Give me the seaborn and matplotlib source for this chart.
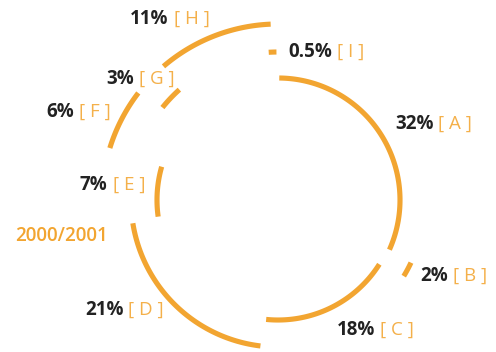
import numpy as np
import pandas as pd
import seaborn as sns
import matplotlib.pyplot as plt

# data
categories = ["A", "B", "C", "D", "E", "F", "G", "H", "I"]
shares = [32, 2, 18, 21, 7, 6, 3, 11, 0.5]
shares_txt = ["32%", "2%", "18%", "21%", "7%", "6%", "3%", "11%", "0.5%"]
year_label = "2000/2001"

# ring each arc sits on (inner / middle / outer)
ring = [122, 147, 120, 147, 121, 176, 148, 176, 148]
# left edge + vertical centre of each label (pixels)
label_pos = [(395, 124), (420, 276), (337, 330), (85, 310), (80, 185),
             (46, 112), (106, 79), (130, 19), (288, 52)]

orange = "#F2A531"
bracket_col = "#F4B04A"
dark = "#222222"
cx, cy = 278, 200

sns.set_style("white")
plt.rcParams["font.family"] = ["Open Sans", "DejaVu Sans"]

# build arc points
scale = 360 / sum(shares)
gap = 0.6
rows = []
start = 0
for cat, val, r in zip(categories, shares, ring):
    end = start + val * scale
    a1 = end - gap
    a0 = min(start + gap, a1 - 3)
    t = np.radians(np.linspace(a0, a1, 120))
    for k, tt in enumerate(t):
        rows.append({"seg": cat, "k": k, "x": cx + r * np.sin(tt), "y": cy - r * np.cos(tt)})
    start = end
arcs = pd.DataFrame(rows)

fig = plt.figure(figsize=(4.96, 3.52), dpi=100)
ax = fig.add_axes([0, 0, 1, 1])
sns.lineplot(data=arcs, x="x", y="y", units="seg", estimator=None, sort=False,
             color=orange, lw=3.7, ax=ax, solid_capstyle="butt")
ax.set_xlim(0, 496)
ax.set_ylim(352, 0)
ax.axis("off")

fig.canvas.draw()
rend = fig.canvas.get_renderer()
inv = ax.transData.inverted()
for txt, cat, (lx, ly) in zip(shares_txt, categories, label_pos):
    t1 = ax.text(lx, ly, txt, ha="left", va="center", fontsize=13.5,
                 fontweight="bold", color=dark)
    bb = t1.get_window_extent(rend)
    x1 = inv.transform((bb.x1, bb.y0))[0]
    ax.text(x1 + 5, ly, "[ " + cat + " ]", ha="left", va="center", fontsize=13.5,
            fontweight="normal", color=bracket_col)

ax.text(15, 236, year_label, ha="left", va="center", fontsize=13.5,
        fontweight="semibold", color=orange)

fig.savefig("out.png", dpi=100)
